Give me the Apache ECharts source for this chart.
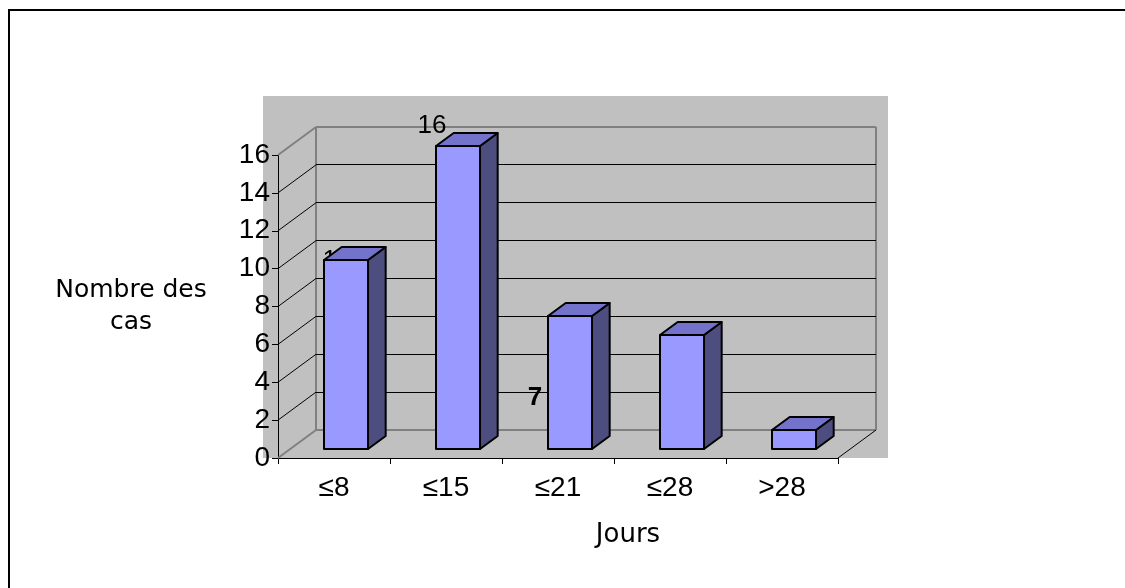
<!DOCTYPE html>
<html>
<head>
<meta charset="utf-8">
<script src="https://cdn.jsdelivr.net/npm/echarts@6/dist/echarts.min.js"></script>
<style>
html,body{margin:0;padding:0;background:#fff;}
#chart{width:1125px;height:588px;}
</style>
</head>
<body>
<div id="chart"></div>
<script>
// ---- data ----
const categories = ['≤8', '≤15', '≤21', '≤28', '>28'];
const cases = [10, 16, 7, 6, 1];
const yTicks = [0, 2, 4, 6, 8, 10, 12, 14, 16];
const yAxisTitle = 'Nombre des\ncas';
const xAxisTitle = 'Jours';

// ---- style ----
const DX = 38, DY = -28;          // depth offset of back wall (px)
const F0 = 0.32, F1 = 0.785;      // bar depth fractions
const BAR_RATIO = 0.39;
const FRONT = '#9999FF', TOPC = '#7373CC', SIDE = '#4D4D80';
const GRAY_LINE = '#808080';
const labelStyles = [
  {dx: 3, dy: -8, behind: true, bold: false},
  {dx: -14, dy: -29, behind: false, bold: false},
  {dx: -23, dy: 72, behind: false, bold: true},
  null,
  null
];

const chart = echarts.init(document.getElementById('chart'), null, {renderer: 'canvas'});

function snap(v) { return Math.round(v - 0.5) + 0.5; }

function renderWalls(params, api) {
  const v = api.value(1);
  const bw = api.size([1, 0])[0];
  const p0 = api.coord([0, v]);
  const p1 = api.coord([categories.length - 1, v]);
  const y = p0[1];
  const xl = p0[0] - bw / 2, xr = p1[0] + bw / 2;
  const edge = (v === yTicks[0] || v === yTicks[yTicks.length - 1]);
  const col = edge ? GRAY_LINE : '#000';
  const lw = edge ? 2 : 1;
  const by = edge ? Math.round(y + DY) : snap(y + DY);
  const children = [
    {type: 'line', shape: {x1: xl + DX, y1: by, x2: xr + DX, y2: by}, style: {stroke: col, lineWidth: lw}},
    {type: 'line', shape: {x1: xl, y1: y, x2: xl + DX, y2: y + DY}, style: {stroke: col, lineWidth: lw}}
  ];
  if (v === yTicks[0]) {
    const yTop = api.coord([0, yTicks[yTicks.length - 1]])[1];
    const bxl = Math.round(xl + DX), bxr = Math.round(xr + DX);
    children.push({type: 'line', shape: {x1: bxl, y1: y + DY, x2: bxl, y2: yTop + DY}, style: {stroke: GRAY_LINE, lineWidth: 2}});
    children.push({type: 'line', shape: {x1: bxr, y1: y + DY, x2: bxr, y2: yTop + DY}, style: {stroke: GRAY_LINE, lineWidth: 2}});
    children.push({type: 'line', shape: {x1: xr, y1: y, x2: xr + DX, y2: y + DY}, style: {stroke: '#000', lineWidth: 1}});
  }
  return {type: 'group', silent: true, children: children};
}

function renderBar(params, api) {
  const i = api.value(0), v = api.value(1);
  const top = api.coord([i, v]);
  const base = api.coord([i, 0]);
  const bw = api.size([1, 0])[0];
  const hw = bw * BAR_RATIO / 2;
  const ox = F0 * DX, oy = F0 * DY;
  const ddx = (F1 - F0) * DX, ddy = (F1 - F0) * DY;
  const xl = Math.round(top[0] + ox - hw), xr = Math.round(top[0] + ox + hw);
  const yt = Math.round(top[1] + oy), yb = Math.round(base[1] + oy);
  const stroke = {stroke: '#000', lineWidth: 2, lineJoin: 'round'};
  const ls = labelStyles[i];
  let label = null;
  if (ls) {
    label = {
      type: 'text',
      style: {
        x: top[0] + ls.dx, y: top[1] + ls.dy,
        text: String(cases[i]),
        align: 'center', verticalAlign: 'middle',
        fill: '#000',
        font: (ls.bold ? 'bold ' : '') + '26px "Liberation Sans", Arial, sans-serif'
      }
    };
  }
  const children = [];
  if (label && ls.behind) children.push(label);
  children.push({type: 'polygon', shape: {points: [[xr, yt], [xr + ddx, yt + ddy], [xr + ddx, yb + ddy], [xr, yb]]}, style: Object.assign({fill: SIDE}, stroke)});
  children.push({type: 'polygon', shape: {points: [[xl, yt], [xr, yt], [xr + ddx, yt + ddy], [xl + ddx, yt + ddy]]}, style: Object.assign({fill: TOPC}, stroke)});
  children.push({type: 'rect', shape: {x: xl, y: yt, width: xr - xl, height: yb - yt}, style: Object.assign({fill: FRONT}, stroke)});
  if (label && !ls.behind) children.push(label);
  return {type: 'group', children: children};
}

const option = {
  animation: false,
  backgroundColor: '#fff',
  graphic: [
    {type: 'rect', z: -10, silent: true, shape: {x: 263, y: 96, width: 625, height: 362}, style: {fill: '#C0C0C0'}},
    {type: 'rect', z: 100, silent: true, shape: {x: 9, y: 10, width: 1130, height: 620}, style: {fill: 'none', stroke: '#000', lineWidth: 2}}
  ],
  grid: {left: 278, top: 155, width: 560, height: 303, containLabel: false},
  xAxis: {
    type: 'category',
    data: categories,
    name: xAxisTitle,
    nameLocation: 'middle',
    nameGap: 77,
    nameTextStyle: {fontFamily: '"DejaVu Sans", sans-serif', fontSize: 26, color: '#000', verticalAlign: 'middle', align: 'center', padding: [0, 0, 0, 140]},
    axisLine: {lineStyle: {color: '#000', width: 1}},
    axisTick: {show: true, length: 6, lineStyle: {color: '#000'}},
    axisLabel: {margin: 16, fontFamily: '"Liberation Sans", Arial, sans-serif', fontSize: 28, color: '#000'},
    splitLine: {show: false}
  },
  yAxis: {
    type: 'value',
    min: 0, max: 16, interval: 2,
    name: yAxisTitle,
    nameLocation: 'middle',
    nameRotate: 0,
    nameGap: 147,
    nameTextStyle: {fontFamily: '"DejaVu Sans", sans-serif', fontSize: 25, color: '#000', align: 'center', verticalAlign: 'middle', lineHeight: 32, padding: [4, 0, 0, 0]},
    axisLine: {show: true, lineStyle: {color: '#000', width: 1}},
    axisTick: {show: true, length: 6, lineStyle: {color: '#000'}},
    axisLabel: {margin: 8, fontFamily: '"Liberation Sans", Arial, sans-serif', fontSize: 28, color: '#000'},
    splitLine: {show: false}
  },
  series: [
    {
      type: 'custom',
      name: 'walls',
      z: 1,
      clip: false,
      silent: true,
      renderItem: renderWalls,
      encode: {x: 0, y: 1},
      data: yTicks.map(v => [0, v])
    },
    {
      type: 'custom',
      name: 'Nombre des cas',
      z: 3,
      clip: false,
      renderItem: renderBar,
      encode: {x: 0, y: 1},
      data: cases.map((v, i) => [i, v])
    }
  ]
};
chart.setOption(option);
</script>
</body>
</html>
